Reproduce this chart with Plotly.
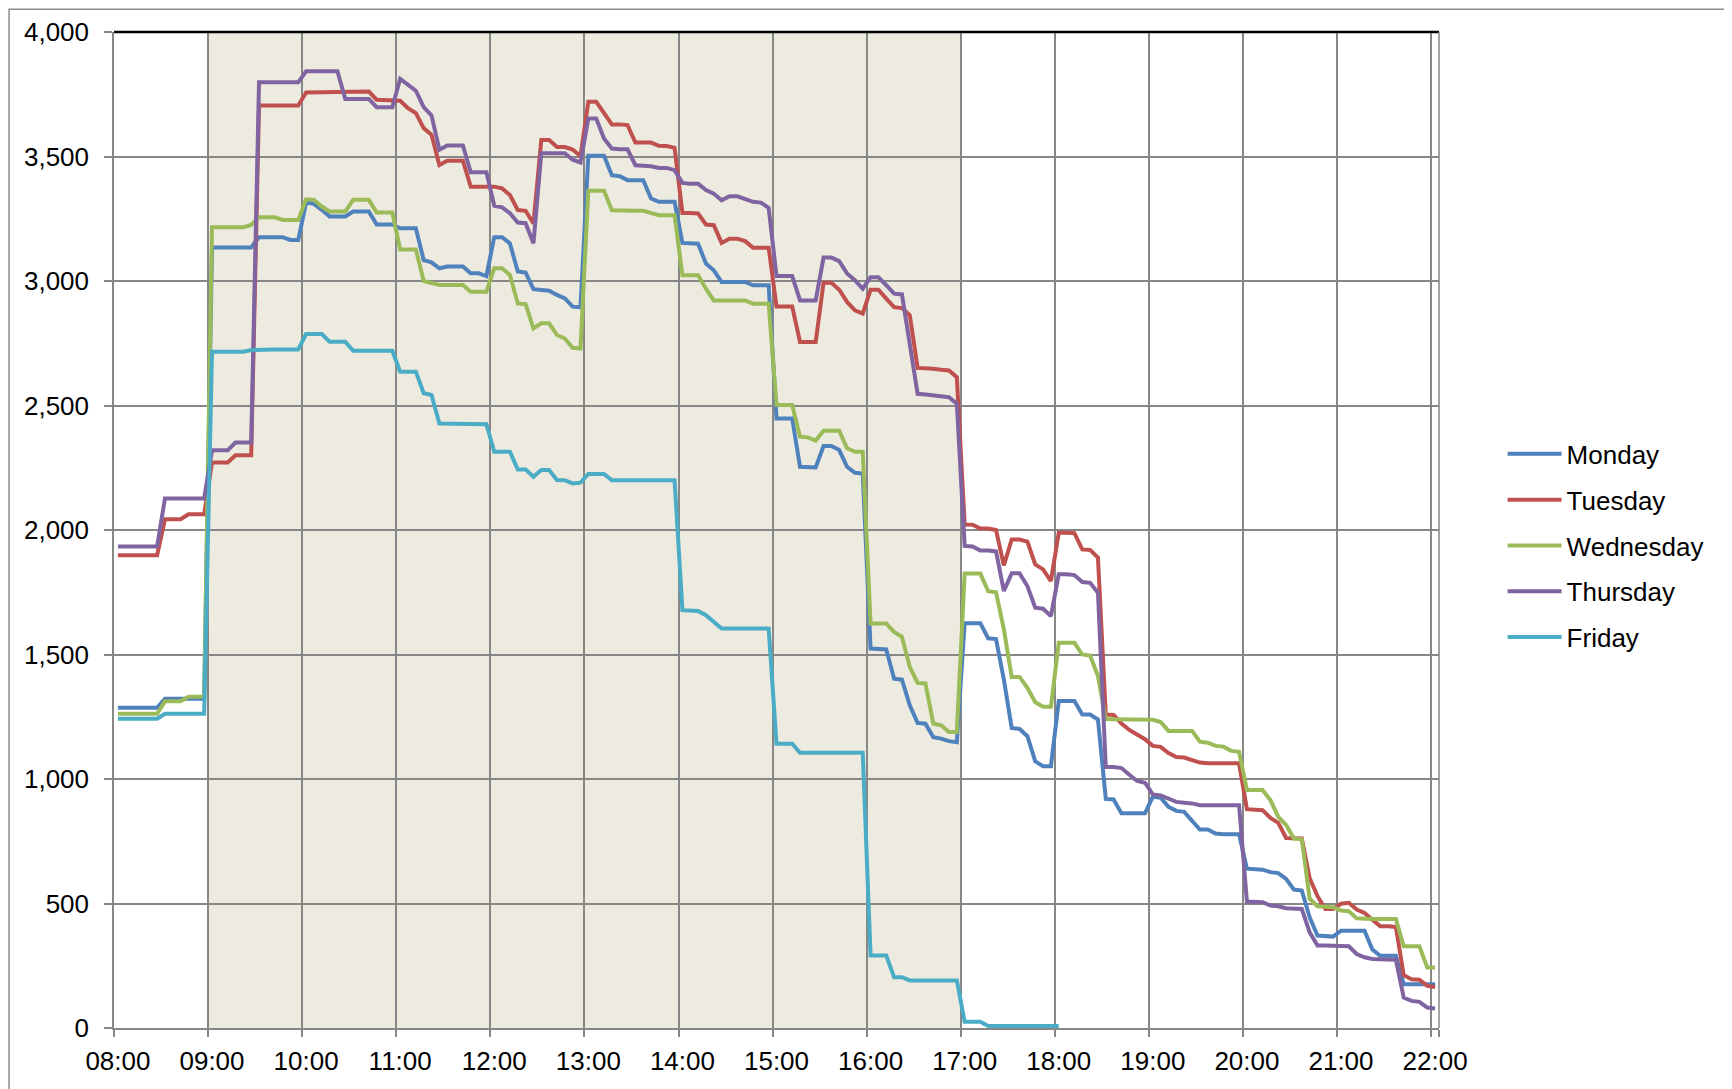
import plotly.graph_objects as go

# 5-minute categories 08:00 .. 22:00
times = [f"{8 + m // 60:02d}:{m % 60:02d}" for m in range(0, 14 * 60 + 1, 5)]
hour_labels = ["08:00", "09:00", "10:00", "11:00", "12:00", "13:00", "14:00", "15:00",
               "16:00", "17:00", "18:00", "19:00", "20:00", "21:00", "22:00"]
days = ["Monday", "Tuesday", "Wednesday", "Thursday", "Friday"]

monday = [
    1286, 1286, 1286, 1286, 1286, 1286, 1322, 1322, 1322, 1322, 1322, 1322,
    3135, 3135, 3135, 3135, 3135, 3135, 3176, 3176, 3176, 3176, 3165, 3165,
    3315, 3310, 3286, 3259, 3259, 3259, 3279, 3279, 3279, 3227, 3227, 3227,
    3212, 3212, 3212, 3084, 3075, 3051, 3058, 3058, 3058, 3031, 3031, 3020,
    3176, 3176, 3151, 3038, 3034, 2967, 2964, 2961, 2944, 2930, 2897, 2894,
    3503, 3503, 3503, 3425, 3421, 3405, 3405, 3405, 3331, 3318, 3318, 3318,
    3153, 3153, 3150, 3070, 3043, 2996, 2996, 2996, 2996, 2983, 2983, 2983,
    2448, 2448, 2448, 2254, 2251, 2251, 2337, 2337, 2321, 2254, 2230, 2227,
    1524, 1524, 1520, 1403, 1399, 1296, 1225, 1222, 1168, 1162, 1152, 1148,
    1626, 1626, 1626, 1565, 1562, 1399, 1205, 1201, 1172, 1071, 1051, 1051,
    1313, 1313, 1313, 1259, 1259, 1239, 920, 918, 862, 862, 862, 862,
    929, 925, 888, 872, 868, 835, 797, 797, 781, 778, 778, 778,
    640, 640, 636, 626, 622, 599, 556, 552, 445, 371, 367, 367,
    391, 391, 391, 391, 315, 290, 290, 290, 176, 176, 176, 176,
    176,
]
tuesday = [
    1899, 1899, 1899, 1899, 1899, 1899, 2043, 2043, 2043, 2063, 2063, 2063,
    2271, 2271, 2271, 2300, 2300, 2300, 3705, 3705, 3705, 3705, 3705, 3705,
    3757, 3757, 3757, 3757, 3757, 3757, 3757, 3761, 3761, 3728, 3728, 3728,
    3724, 3694, 3674, 3614, 3587, 3466, 3483, 3483, 3483, 3379, 3379, 3379,
    3379, 3372, 3345, 3285, 3282, 3231, 3566, 3566, 3538, 3538, 3528, 3501,
    3720, 3720, 3673, 3629, 3629, 3626, 3556, 3556, 3556, 3543, 3542, 3535,
    3273, 3273, 3271, 3227, 3224, 3153, 3170, 3170, 3160, 3134, 3134, 3134,
    2898, 2898, 2898, 2755, 2755, 2755, 2993, 2993, 2965, 2916, 2882, 2869,
    2965, 2965, 2929, 2895, 2891, 2862, 2651, 2651, 2648, 2644, 2641, 2614,
    2022, 2021, 2006, 2006, 2000, 1858, 1962, 1962, 1953, 1862, 1842, 1795,
    1989, 1989, 1987, 1922, 1920, 1889, 1259, 1257, 1223, 1197, 1180, 1160,
    1133, 1129, 1104, 1088, 1086, 1075, 1066, 1063, 1063, 1063, 1063, 1063,
    879, 875, 875, 844, 824, 763, 761, 761, 602, 530, 478, 478,
    499, 503, 476, 462, 435, 409, 409, 406, 212, 196, 194, 169,
    165,
]
wednesday = [
    1262, 1262, 1262, 1262, 1262, 1262, 1312, 1312, 1312, 1330, 1330, 1330,
    3216, 3216, 3216, 3216, 3216, 3225, 3256, 3256, 3256, 3245, 3245, 3245,
    3328, 3326, 3299, 3279, 3279, 3279, 3326, 3326, 3326, 3275, 3275, 3275,
    3127, 3127, 3127, 3000, 2991, 2984, 2984, 2984, 2984, 2957, 2957, 2957,
    3051, 3051, 3024, 2910, 2907, 2810, 2830, 2830, 2783, 2769, 2732, 2729,
    3362, 3362, 3362, 3284, 3282, 3282, 3282, 3282, 3273, 3264, 3264, 3264,
    3023, 3023, 3023, 2969, 2922, 2922, 2922, 2922, 2922, 2909, 2909, 2909,
    2502, 2502, 2502, 2375, 2372, 2359, 2399, 2399, 2399, 2328, 2314, 2314,
    1624, 1624, 1624, 1591, 1571, 1450, 1386, 1384, 1223, 1216, 1189, 1189,
    1825, 1825, 1825, 1754, 1750, 1601, 1410, 1410, 1366, 1308, 1290, 1290,
    1547, 1547, 1547, 1500, 1496, 1413, 1241, 1240, 1239, 1239, 1238, 1238,
    1238, 1229, 1193, 1193, 1193, 1193, 1150, 1146, 1133, 1130, 1113, 1109,
    956, 956, 956, 915, 848, 815, 761, 758, 519, 489, 485, 485,
    472, 469, 441, 438, 438, 438, 438, 438, 328, 328, 328, 243,
    243,
]
thursday = [
    1934, 1934, 1934, 1934, 1934, 1934, 2127, 2127, 2127, 2127, 2127, 2127,
    2320, 2320, 2320, 2351, 2351, 2351, 3798, 3798, 3798, 3798, 3798, 3798,
    3842, 3842, 3842, 3842, 3842, 3731, 3731, 3731, 3731, 3698, 3698, 3698,
    3812, 3788, 3764, 3698, 3665, 3527, 3544, 3544, 3544, 3437, 3437, 3437,
    3302, 3296, 3272, 3235, 3232, 3151, 3513, 3513, 3513, 3513, 3487, 3476,
    3653, 3653, 3572, 3532, 3529, 3529, 3465, 3465, 3461, 3454, 3454, 3445,
    3394, 3391, 3391, 3365, 3351, 3324, 3340, 3340, 3331, 3318, 3315, 3294,
    3020, 3020, 3020, 2922, 2922, 2922, 3094, 3094, 3080, 3030, 3003, 2969,
    3015, 3015, 2983, 2949, 2946, 2750, 2547, 2544, 2540, 2540, 2533, 2507,
    1936, 1934, 1918, 1918, 1914, 1755, 1826, 1826, 1775, 1688, 1684, 1654,
    1822, 1822, 1819, 1791, 1788, 1748, 1048, 1048, 1044, 1017, 992, 985,
    938, 934, 921, 908, 905, 902, 895, 895, 895, 895, 895, 895,
    508, 508, 505, 492, 489, 481, 481, 478, 384, 331, 331, 331,
    331, 328, 297, 284, 277, 277, 277, 274, 122, 109, 105, 82,
    78,
]
friday = [
    1242, 1242, 1242, 1242, 1242, 1242, 1262, 1262, 1262, 1262, 1262, 1262,
    2716, 2716, 2716, 2716, 2716, 2723, 2725, 2725, 2725, 2725, 2725, 2725,
    2787, 2787, 2787, 2756, 2756, 2756, 2720, 2720, 2720, 2720, 2720, 2720,
    2636, 2636, 2636, 2549, 2542, 2428, 2428, 2428, 2428, 2428, 2428, 2425,
    2314, 2314, 2314, 2243, 2243, 2214, 2241, 2241, 2201, 2200, 2187, 2190,
    2225, 2225, 2225, 2200, 2200, 2200, 2200, 2200, 2200, 2200, 2200, 2200,
    1678, 1675, 1675, 1658, 1631, 1604, 1604, 1604, 1604, 1604, 1604, 1604,
    1142, 1142, 1142, 1105, 1105, 1105, 1105, 1105, 1105, 1105, 1105, 1105,
    291, 291, 291, 204, 204, 191, 191, 191, 191, 191, 191, 191,
    25, 25, 25, 8, 8, 8, 8, 8, 8, 8, 8, 8,
    8,
]

series = [monday, tuesday, wednesday, thursday, friday]
colors = ["#4F81BD", "#C0504D", "#9BBB59", "#8064A2", "#4BACC6"]

FONT = "Liberation Sans, Arial, sans-serif"
GRID = "#878787"

fig = go.Figure()
for name, vals, col in zip(days, series, colors):
    fig.add_trace(go.Scatter(
        x=times[:len(vals)], y=vals, name=name, mode="lines",
        line=dict(color=col, width=4), legendgroup=name,
    ))

n = len(times)
# working-hours shading 09:00 - 17:00 (category boundaries)
fig.add_shape(type="rect", xref="x", yref="y",
              x0=times.index("09:00") - 0.5, x1=times.index("17:00") - 0.5,
              y0=0, y1=4000, fillcolor="#EDEBE0", line_width=0, layer="below")
# top black edge of plot area
fig.add_shape(type="line", xref="paper", yref="paper", x0=0, x1=1, y0=1, y1=1,
              line=dict(color="#000000", width=2.5))
# right edge of plot area
fig.add_shape(type="line", xref="paper", yref="paper", x0=1, x1=1, y0=0, y1=1,
              line=dict(color=GRID, width=1.5))
# chart-area border (left and top edges visible)
fig.add_shape(type="rect", xref="paper", yref="paper",
              x0=-0.0792, x1=1.25, y0=-0.1, y1=1.0228,
              line=dict(color="#8C8C8C", width=1.5), fillcolor="rgba(0,0,0,0)")

# chart title, almost entirely above the visible page (as in the reference)
fig.add_annotation(text="<b>Occupancy by Day</b>", xref="paper", yref="paper",
                   x=0.5 + (866 - 776.5) / 1325, y=1.0235, xanchor="center",
                   yanchor="bottom", showarrow=False,
                   font=dict(size=22, color="#000000", family="Liberation Sans, Arial"))

fig.update_layout(
    width=1724, height=1081,
    margin=dict(l=106, r=293, t=24, b=61, autoexpand=False),
    paper_bgcolor="white", plot_bgcolor="white",
    font=dict(family=FONT, size=26, color="#000000"),
    showlegend=True,
    legend=dict(x=1.048, xanchor="left", y=0.484, yanchor="middle",
                font=dict(size=26), tracegroupgap=9, itemwidth=54,
                bgcolor="rgba(0,0,0,0)"),
)
fig.update_xaxes(
    type="category", categoryorder="array", categoryarray=times,
    range=[-0.5, n - 0.5],
    tickmode="array", tickvals=hour_labels, ticktext=hour_labels,
    tickson="boundaries", ticks="outside", ticklen=7, tickcolor=GRID, tickwidth=1.5,
    showgrid=True, gridcolor=GRID, gridwidth=1.5,
    showline=True, linecolor=GRID, linewidth=1.5,
    tickfont=dict(size=26), tickangle=0, zeroline=False, ticklabelstandoff=9,
)
fig.update_yaxes(
    range=[0, 4000], dtick=500, tick0=0, tickformat=",",
    ticks="outside", ticklen=8, tickcolor=GRID, tickwidth=1.5,
    showgrid=True, gridcolor=GRID, gridwidth=1.5,
    showline=True, linecolor=GRID, linewidth=1.5,
    zeroline=False, tickfont=dict(size=26), ticklabelstandoff=10,
)

fig.write_html("out.html")
